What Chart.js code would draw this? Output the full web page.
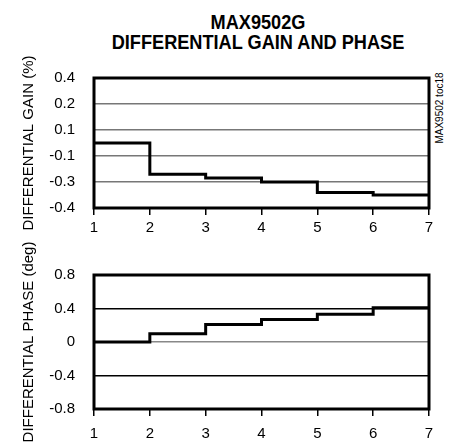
<!DOCTYPE html>
<html>
<head>
<meta charset="utf-8">
<script src="https://cdn.jsdelivr.net/npm/chart.js@4.4.1/dist/chart.umd.min.js"></script>
<style>
  html, body { margin: 0; padding: 0; background: #fff; }
  body { width: 451px; height: 442px; position: relative; overflow: hidden; font-family: 'Liberation Sans', Arial, sans-serif; }
  .title { position: absolute; left: 58px; width: 400px; text-align: center; font-weight: bold; font-size: 21px; line-height: 20px; color: #000; transform: scaleX(0.865); }
  .tag { position: absolute; left: 439px; top: 108px; font-size: 10px; color: #000; white-space: nowrap; transform: translate(-50%, -50%) rotate(-90deg); }
  #gainChart { position: absolute; left: 0; top: 50px; }
  #phaseChart { position: absolute; left: 0; top: 236px; }
</style>
</head>
<body>
<div class="title" style="top: 12px;">MAX9502G</div>
<div class="title" style="top: 32px;">DIFFERENTIAL GAIN AND PHASE</div>
<div class="tag">MAX9502 toc18</div>
<canvas id="gainChart" width="451" height="195"></canvas>
<canvas id="phaseChart" width="451" height="206"></canvas>
<script>
const steps = [1, 2, 3, 4, 5, 6, 7];
// level held from each step to the next one
const gainLevels = [0.0, -0.24, -0.27, -0.30, -0.34, -0.35];
const phaseLevels = [0.0, 0.1, 0.21, 0.27, 0.33, 0.41];
// gain axis is printed with uneven labels on evenly spaced grid lines
const gainTicks = [-0.4, -0.3, -0.1, 0.1, 0.2, 0.4];
const phaseTicks = [-0.8, -0.4, 0, 0.4, 0.8];

const FONT = "'Liberation Sans', Arial, sans-serif";

// where a gain value sits between the printed grid labels
function gainToIndex(v) {
  for (let i = 0; i < gainTicks.length - 1; i++) {
    const a = gainTicks[i], b = gainTicks[i + 1];
    if (v >= a && v <= b) return i + (v - a) / (b - a);
  }
  return v < gainTicks[0] ? 0 : gainTicks.length - 1;
}

function stepPoints(levels, map) {
  const pts = levels.map((v, i) => ({ x: steps[i], y: map(v) }));
  pts.push({ x: steps[steps.length - 1], y: map(levels[levels.length - 1]) });
  return pts;
}

const framePlugin = {
  id: 'frame',
  afterDatasetsDraw(chart) {
    const { ctx, chartArea: a } = chart;
    ctx.save();
    ctx.strokeStyle = '#000';
    ctx.lineWidth = 3;
    ctx.strokeRect(a.left, a.top, a.right - a.left, a.bottom - a.top);
    ctx.restore();
  },
};

function xScale(height, pad) {
  return {
    type: 'linear',
    min: 1,
    max: 7,
    afterFit: (s) => { s.height = height; },
    grid: { drawOnChartArea: false, drawTicks: true, tickLength: 7, color: '#000', lineWidth: 1.5 },
    border: { display: false },
    ticks: { stepSize: 1, color: '#000', padding: pad, maxRotation: 0, font: { family: FONT, size: 15 } },
  };
}

function createStepChart(id, { data, yMin, yMax, step, labels, title, gridColor, padTop, xHeight, xPad }) {
  const ctx = document.getElementById(id).getContext('2d');
  return new Chart(ctx, {
    type: 'line',
    data: {
      datasets: [
        {
          data,
          stepped: 'before',
          borderColor: '#000',
          borderWidth: 3,
          pointRadius: 0,
          fill: false,
        },
      ],
    },
    options: {
      responsive: false,
      animation: false,
      events: [],
      layout: { padding: { left: 0, right: 22, top: padTop, bottom: 0 } },
      plugins: { legend: { display: false }, tooltip: { enabled: false } },
      scales: {
        x: xScale(xHeight, xPad),
        y: {
          min: yMin,
          max: yMax,
          afterFit: (s) => { s.width = 94; },
          afterBuildTicks: (s) => {
            s.ticks = labels.map((_, i) => ({ value: yMin + i * step }));
          },
          grid: { drawTicks: false, color: gridColor, lineWidth: 1.5 },
          border: { display: false },
          ticks: {
            color: '#000',
            padding: 19,
            font: { family: FONT, size: 15 },
            callback: (v) => labels[Math.round((v - yMin) / step)],
          },
          title: {
            display: true,
            text: title,
            color: '#000',
            padding: { top: 20, bottom: 0 },
            font: { family: FONT, size: 15 },
          },
        },
      },
    },
    plugins: [framePlugin],
  });
}

createStepChart('gainChart', {
  data: stepPoints(gainLevels, gainToIndex),
  yMin: 0,
  yMax: gainTicks.length - 1,
  step: 1,
  labels: gainTicks.map((t) => t.toFixed(1)),
  title: 'DIFFERENTIAL GAIN (%)',
  gridColor: '#777',
  padTop: 24,
  xHeight: 37,
  xPad: 4,
});

createStepChart('phaseChart', {
  data: stepPoints(phaseLevels, (v) => v),
  yMin: -0.8,
  yMax: 0.8,
  step: 0.4,
  labels: phaseTicks.map((t) => (t === 0 ? '0' : t.toFixed(1))),
  title: 'DIFFERENTIAL PHASE (deg)',
  gridColor: (c) => (c.tick && Math.abs(c.tick.value) < 1e-9 ? '#888' : '#000'),
  padTop: 39,
  xHeight: 33,
  xPad: 9,
});
</script>
</body>
</html>
